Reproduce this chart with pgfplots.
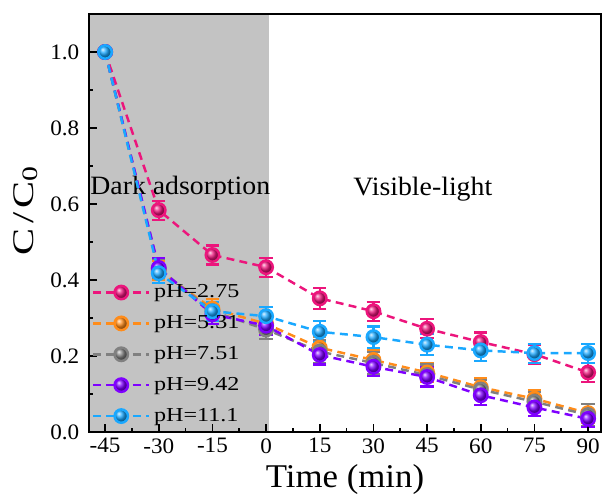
\documentclass[border=0pt]{standalone}
\usepackage{pgfplots}
\pgfplotsset{compat=1.18}
\usepackage{fontspec}
\setmainfont{Liberation Serif}
\newfontfamily\tfA[FakeStretch=1.22]{Liberation Serif}
\newfontfamily\tfB[FakeStretch=1.35]{Liberation Serif}
\newfontfamily\tfC[FakeStretch=1.05]{Liberation Serif}
\usetikzlibrary{shadings}
\definecolor{cpink}{HTML}{EC157C}
\definecolor{corange}{HTML}{FF8C1A}
\definecolor{cgray}{HTML}{808080}
\definecolor{cpurple}{HTML}{7F00FF}
\definecolor{cblue}{HTML}{1AA8FF}
\definecolor{cshade}{HTML}{C3C3C3}
\begin{document}
\begin{tikzpicture}
\begin{axis}[
  scale only axis,
  width=10.2cm, height=8.33cm,
  xmin=-49.5, xmax=93.6, ymin=0, ymax=1.1,
  xtick={-45,-30,...,90}, ytick={0,0.2,...,1.0},
  minor x tick num=1, minor y tick num=1,
  tick pos=left, tick align=inside,
  major tick length=0.16cm, minor tick length=0.08cm,
  tick style={line width=1pt, black, solid},
  axis line style={line width=1.3pt},
  axis on top,
  yticklabel style={/pgf/number format/.cd, fixed, fixed zerofill, precision=1, /tikz/.cd, xshift=-2pt},
  /pgf/number format/assume math mode=true,
  ticklabel style={font=\tfC\fontsize{12.5}{14}\selectfont},
  xlabel={\tfC\fontsize{18.8}{21}\selectfont Time (min)},
  ylabel={\tfB\fontsize{17}{20}\selectfont C\hspace{2.5pt}/\hspace{2.5pt}C\raisebox{-0.35ex}{\fontsize{12.5}{12}\selectfont 0}},
  xlabel style={yshift=0.5pt}, ylabel style={yshift=0pt, xshift=7pt},
  clip=false,
  legend style={draw=none, fill=none, at={(0.005,0.362)}, anchor=north west,
    font=\tfA\fontsize{11.2}{13}\selectfont, row sep=4.6pt, inner sep=0pt},
  legend cell align=left,
  legend image code/.code={
    \draw[mark repeat=2,mark phase=2] plot coordinates {(0cm,0cm) (0.56cm,0cm) (1.12cm,0cm)};},
  every axis plot/.append style={line width=1.4pt, dash pattern=on 4.5pt off 3pt,
    error bars/y dir=both, error bars/y explicit,
    error bars/error bar style={solid, line width=1.2pt},
    error bars/error mark options={rotate=90, mark size=3.8pt, line width=1.2pt}},
]
\fill[cshade] (axis cs:-49.5,0) rectangle (axis cs:0.8,1.1);
\node[anchor=west, inner sep=0pt, font=\tfC\fontsize{15}{17}\selectfont] at (axis cs:-49.2,0.643) {Dark adsorption};
\node[font=\tfC\fontsize{15}{17}\selectfont] at (axis cs:43.8,0.64) {Visible-light};

\addplot[cpink, mark=ball, mark options={ball color=cpink, solid}, mark size=3.8pt] coordinates {
(-45,1.0) +- (0,0) (-30,0.584) +- (0,0.025) (-15,0.466) +- (0,0.025) (0,0.434) +- (0,0.025)
(15,0.352) +- (0,0.028) (30,0.318) +- (0,0.025) (45,0.272) +- (0,0.025) (60,0.237) +- (0,0.025)
(75,0.205) +- (0,0.025) (90,0.157) +- (0,0.025)};
\addlegendentry{pH=2.75}
\addplot[corange, mark=ball, mark options={ball color=corange, solid}, mark size=3.8pt] coordinates {
(-45,1.0) +- (0,0) (-30,0.425) +- (0,0.025) (-15,0.325) +- (0,0.025) (0,0.285) +- (0,0.025)
(15,0.222) +- (0,0.028) (30,0.19) +- (0,0.025) (45,0.157) +- (0,0.025) (60,0.118) +- (0,0.025)
(75,0.088) +- (0,0.022) (90,0.05) +- (0,0.025)};
\addlegendentry{pH=5.31}
\addplot[cgray, mark=ball, mark options={ball color=cgray, solid}, mark size=3.8pt] coordinates {
(-45,1.0) +- (0,0) (-30,0.43) +- (0,0.025) (-15,0.318) +- (0,0.025) (0,0.27) +- (0,0.025)
(15,0.212) +- (0,0.03) (30,0.182) +- (0,0.028) (45,0.15) +- (0,0.028) (60,0.112) +- (0,0.025)
(75,0.08) +- (0,0.025) (90,0.045) +- (0,0.028)};
\addlegendentry{pH=7.51}
\addplot[cpurple, mark=ball, mark options={ball color=cpurple, solid}, mark size=3.8pt] coordinates {
(-45,1.0) +- (0,0) (-30,0.432) +- (0,0.025) (-15,0.31) +- (0,0.025) (0,0.28) +- (0,0.025)
(15,0.203) +- (0,0.025) (30,0.172) +- (0,0.025) (45,0.145) +- (0,0.025) (60,0.097) +- (0,0.025)
(75,0.065) +- (0,0.022) (90,0.035) +- (0,0.022)};
\addlegendentry{pH=9.42}
\addplot[cblue, mark=ball, mark options={ball color=cblue, solid}, mark size=3.8pt] coordinates {
(-45,1.0) +- (0,0) (-30,0.418) +- (0,0.025) (-15,0.318) +- (0,0.025) (0,0.305) +- (0,0.025)
(15,0.264) +- (0,0.028) (30,0.25) +- (0,0.028) (45,0.23) +- (0,0.028) (60,0.215) +- (0,0.028)
(75,0.208) +- (0,0.025) (90,0.208) +- (0,0.025)};
\addlegendentry{pH=11.1}
\end{axis}
\pgfresetboundingbox
\path[use as bounding box] ([shift={(-1.773cm,-1.255cm)}]current axis.south west) rectangle ([shift={(0.04cm,0.279cm)}]current axis.north east);
\end{tikzpicture}
\end{document}
